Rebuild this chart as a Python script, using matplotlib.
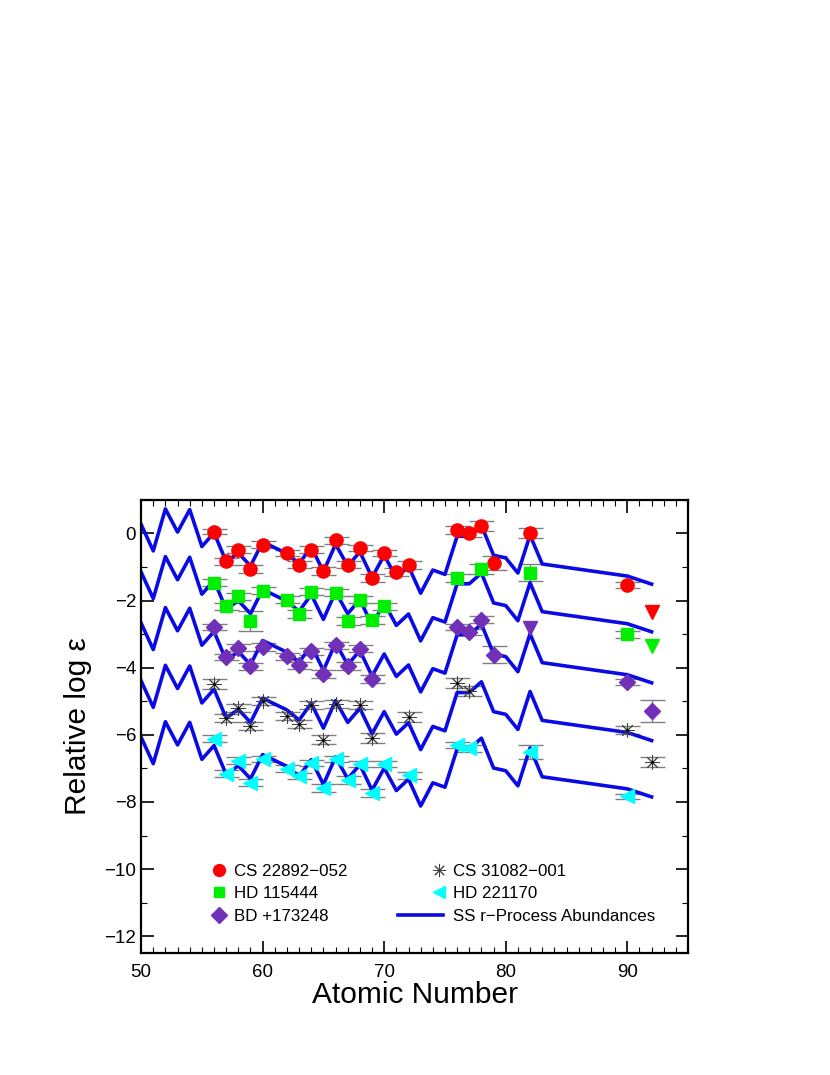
#!/usr/bin/env python3
# -*- coding:utf-8 -*-
import numpy as np
import matplotlib
matplotlib.use("Agg")
import matplotlib.pyplot as plt
from matplotlib.ticker import MultipleLocator
from matplotlib.legend_handler import HandlerLine2D

plt.rcParams['font.family'] = ['Liberation Sans', 'DejaVu Sans']

# scaled solar system r-process curve (top copy), shifted for each star
ss_z = [50, 51, 52, 53, 54, 55, 56, 57, 58, 59, 60, 62, 63, 64, 65, 66, 67, 68, 69, 70,
        71, 72, 73, 74, 75, 76, 77, 78, 79, 80, 81, 82, 83, 90, 92]
ss_top = [0.27, -0.52, 0.73, 0.04, 0.71, -0.39, 0.02, -0.84, -0.58, -0.97, -0.25, -0.60,
          -0.90, -0.40, -1.14, -0.32, -0.97, -0.55, -1.31, -0.65, -1.32, -0.98, -1.78,
          -1.09, -1.22, -0.08, -0.08, 0.24, -0.65, -0.73, -1.18, -0.05, -0.91, -1.27, -1.51]
ss_shift = [0.0, -1.42, -2.94, -4.66, -6.34]

star_names = ['CS 22892\u2212052', 'HD 115444', 'BD +173248', 'CS 31082\u2212001', 'HD 221170']

# CS 22892-052
cs22_z = [56, 57, 58, 59, 60, 62, 63, 64, 65, 66, 67, 68, 69, 70, 71, 72, 76, 77, 78, 79, 82, 90]
cs22_v = [0.05, -0.83, -0.48, -1.07, -0.33, -0.58, -0.93, -0.48, -1.11, -0.20, -0.93, -0.43,
          -1.34, -0.58, -1.14, -0.95, 0.10, 0.02, 0.22, -0.88, 0.00, -1.54]
cs22_e = [0.08, 0.10, 0.10, 0.12, 0.10, 0.10, 0.10, 0.10, 0.12, 0.10, 0.10, 0.10,
          0.12, 0.10, 0.12, 0.12, 0.12, 0.12, 0.15, 0.20, 0.15, 0.10]
cs22_lim_z = [92]
cs22_lim_v = [-2.34]

# HD 115444
hd11_z = [56, 57, 58, 59, 60, 62, 63, 64, 66, 67, 68, 69, 70, 76, 78, 82, 90]
hd11_v = [-1.47, -2.17, -1.87, -2.61, -1.71, -1.97, -2.41, -1.74, -1.77, -2.62, -1.97,
          -2.57, -2.17, -1.32, -1.07, -1.17, -3.01]
hd11_e = [0.10, 0.10, 0.10, 0.30, 0.10, 0.10, 0.12, 0.10, 0.10, 0.12, 0.10,
          0.12, 0.10, 0.12, 0.15, 0.25, 0.10]
hd11_lim_z = [92]
hd11_lim_v = [-3.36]

# BD +17 3248
bd17_z = [56, 57, 58, 59, 60, 62, 63, 64, 65, 66, 67, 68, 69, 76, 77, 78, 79, 90, 92]
bd17_v = [-2.79, -3.68, -3.40, -3.96, -3.38, -3.66, -3.93, -3.51, -4.18, -3.33, -3.96,
          -3.43, -4.33, -2.79, -2.94, -2.57, -3.61, -4.43, -5.29]
bd17_e = [0.10, 0.10, 0.10, 0.10, 0.12, 0.10, 0.10, 0.10, 0.12, 0.10, 0.12,
          0.10, 0.12, 0.10, 0.10, 0.10, 0.25, 0.10, 0.32]
bd17_lim_z = [82]
bd17_lim_v = [-2.81]

# CS 31082-001
cs31_z = [56, 57, 58, 59, 60, 62, 63, 64, 65, 66, 68, 69, 72, 76, 77, 90, 92]
cs31_v = [-4.48, -5.50, -5.20, -5.74, -5.00, -5.44, -5.67, -5.10, -6.14, -5.07, -5.12,
          -6.10, -5.47, -4.46, -4.70, -5.87, -6.82]
cs31_e = [0.15, 0.12, 0.12, 0.12, 0.12, 0.12, 0.12, 0.12, 0.12, 0.12, 0.12,
          0.15, 0.15, 0.15, 0.15, 0.12, 0.15]

# HD 221170
hd22_z = [56, 57, 58, 59, 60, 62, 63, 64, 65, 66, 67, 68, 69, 70, 72, 76, 77, 82, 90]
hd22_v = [-6.12, -7.16, -6.77, -7.43, -6.72, -7.01, -7.23, -6.84, -7.59, -6.72, -7.36,
          -6.87, -7.74, -6.87, -7.21, -6.30, -6.40, -6.50, -7.83]
hd22_e = [0.10, 0.10, 0.10, 0.10, 0.10, 0.10, 0.10, 0.10, 0.12, 0.10, 0.12,
          0.10, 0.12, 0.10, 0.10, 0.10, 0.10, 0.21, 0.08]


class RightMarker(HandlerLine2D):
    # legend marker sits at the right end of the handle box
    def get_xdata(self, legend, xdescent, ydescent, width, height, fontsize):
        xm = np.array([-xdescent + width - 0.25 * fontsize])
        return xm, xm


fig = plt.figure(figsize=(8.3, 10.75), dpi=100)
ax = fig.add_axes([0.170, 0.1135, 0.659, 0.4215])

ecol = '#808080'
ss_z = np.array(ss_z)
ss_top = np.array(ss_top)
for i, sh in enumerate(ss_shift):
    ax.plot(ss_z, ss_top + sh, color='#0a0ae6', lw=2.6, zorder=2,
            label='SS r\u2212Process Abundances' if i == 0 else None)

stars = [
    (cs22_z, cs22_v, cs22_e, 'o', '#ff0000', 9.5, star_names[0]),
    (hd11_z, hd11_v, hd11_e, 's', '#00ee00', 8.5, star_names[1]),
    (bd17_z, bd17_v, bd17_e, 'D', '#7030b8', 8.5, star_names[2]),
    (cs31_z, cs31_v, cs31_e, (8, 2, 0), '#404040', 10.5, star_names[3]),
    (hd22_z, hd22_v, hd22_e, '<', '#00ffff', 10, star_names[4]),
]
handles = []
for z, v, e, mk, col, ms, name in stars:
    ax.errorbar(z, v, yerr=e, fmt='none', ecolor=ecol, elinewidth=1.0,
                capsize=9, capthick=1.0, zorder=1)
    if mk == (8, 2, 0):
        h, = ax.plot(z, v, ls='none', marker=mk, ms=ms, mec=col, mew=0.7,
                     color=col, zorder=3, label=name)
        ax.plot(z, v, ls='none', marker='.', ms=2, color='black', zorder=3)
    else:
        h, = ax.plot(z, v, ls='none', marker=mk, ms=ms, color=col, mec=col,
                     zorder=3, label=name)
    handles.append(h)

# upper limits
ax.plot(cs22_lim_z, cs22_lim_v, ls='none', marker='v', ms=10, color='#ff0000', zorder=3)
ax.plot(hd11_lim_z, hd11_lim_v, ls='none', marker='v', ms=10, color='#00ee00', zorder=3)
ax.plot(bd17_lim_z, bd17_lim_v, ls='none', marker='v', ms=10, color='#7030b8', zorder=3)

ax.set_xlim(50, 95)
ax.set_ylim(-12.5, 1.0)
ax.xaxis.set_major_locator(MultipleLocator(10))
ax.xaxis.set_minor_locator(MultipleLocator(1))
ax.yaxis.set_major_locator(MultipleLocator(2))
ax.yaxis.set_minor_locator(MultipleLocator(1))
ax.tick_params(which='both', direction='in', top=True, right=True, labelsize=13.5)
ax.tick_params(which='major', length=9, width=1.2)
ax.tick_params(which='minor', length=4.5, width=0.8)
ax.tick_params(axis='x', pad=8)
for sp in ax.spines.values():
    sp.set_linewidth(1.6)

ax.set_xlabel('Atomic Number', fontsize=21.5, labelpad=0)
ax.set_ylabel('Relative log \u03b5', fontsize=21.5, labelpad=9)

ss_handle = ax.get_lines()[0]
hmap = {h: RightMarker(numpoints=2) for h in handles}
leg = ax.legend(handles=handles + [ss_handle], handler_map=hmap,
                ncol=2, frameon=False, loc='lower left', bbox_to_anchor=(0.056, 0.049),
                fontsize=12.2, handlelength=2.65, handletextpad=0.6, columnspacing=3.0,
                labelspacing=0.45, markerscale=0.9, borderaxespad=0.0)

fig.savefig('out.png', dpi=100)
